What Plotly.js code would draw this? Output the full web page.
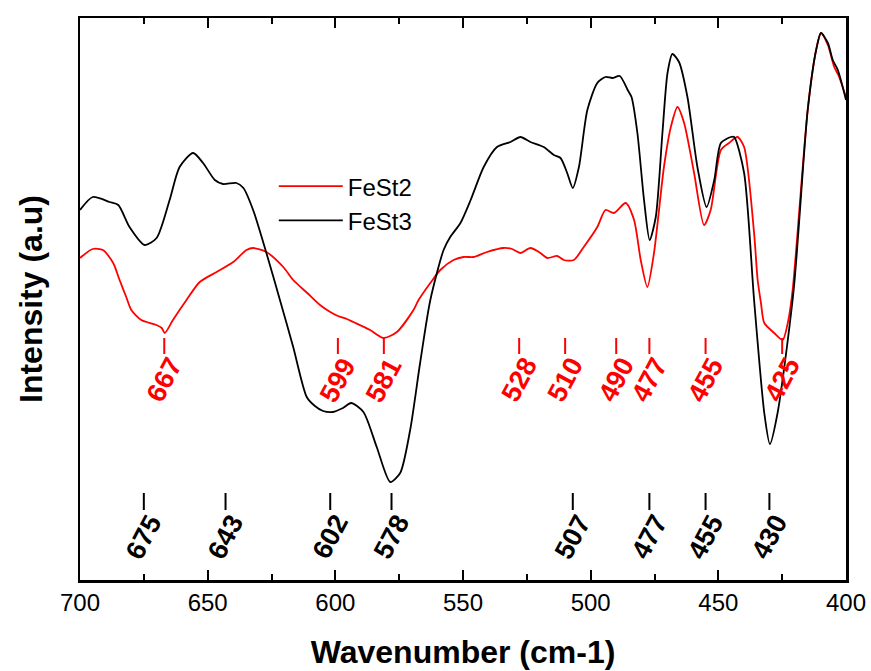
<!DOCTYPE html>
<html>
<head>
<meta charset="utf-8">
<script src="https://cdn.plot.ly/plotly-3.0.1.min.js"></script>
<style>html,body{margin:0;padding:0;background:#fff;}#chart{width:871px;height:671px;}</style>
</head>
<body>
<div id="chart"></div>
<script>
// FeSt3 (black) spectrum, wavenumber (cm-1) and intensity (a.u.)
const fest3X = [700,695,688.4,685,680.6,674.7,670,664.9,661,655.7,651.8,647.2,644,638.7,636,632.2,627,621.7,616.5,611.2,608,604.8,601,597,593.8,589,583.8,578.5,574.6,570.7,566.8,562.8,557.6,555,551,547,541.9,536.7,531.4,527.5,523.6,518.4,514.4,511.8,509.2,507,504.6,501.3,497.4,494.2,491.5,488.6,485.5,484,481.7,479.1,476.9,474.5,471.9,469.9,468,465.4,462.1,458.2,454.6,451.6,449,445.1,443.8,439.9,436,432,429.8,426.8,420.5,415,411.7,409.8,407.1,405.2,403.2,400];
const fest3Y = [370,383,378,375,353,335,342,380,413,427,417,400,396,397,392,370,327,280,233,183,174,169,168,172,177,168,133,98,107,150,217,280,330,343,357,380,413,433,438,443,438,433,425,422,407,392,413,470,497,503,502,504,490,483,447,380,340,363,447,507,526,518,483,413,373,400,437,443,443,407,280,167,136,167,290,470,530,547,537,520,510,480];
// FeSt2 (red) spectrum
const fest2X = [700,695,691,687,684.5,681.9,679.9,676,670.1,668,666.8,663.6,658.3,653.1,646.5,640,634.8,632.2,627,620.4,616.5,611,606,602,599,595.5,593,586.4,581.2,575.9,569.4,567.4,562.8,558.9,553.7,549.8,545.8,540.6,534.1,530.8,527.5,523.6,519.7,517,513.1,510.5,506.6,502.7,497.4,494.2,490.9,486.3,483,480.4,477.8,475.2,471.3,468.6,466,463.4,459.5,455.6,453,449,445.8,442.5,439.9,436,434.6,433.3,432,428.1,424.8,422.8,420.9,415,411.7,409.8,407.1,404.6,403,400];
const fest2Y = [322,331,330,317,300,283,270,260,255,252,247,260,280,298,308,318,330,332,328,313,300,287,275,268,264,261,258,250,242,248,270,280,297,310,320,323,323,328,332,331,327,332,327,322,324,320,320,333,353,370,367,377,360,320,293,327,413,453,473,457,407,355,370,430,437,443,433,347,300,277,257,247,240,257,290,470,530,547,535,513,505,483];

// peak labels
const peaksRed = [667,599,581,528,510,490,477,455,425];
const peaksBlack = [675,643,602,578,507,477,455,430];
const redTick = [226,242];   // intensity span of the red marker dashes
const redText = 200;
const blackTick = [70,87];
const blackText = 43;

const xTickVals = [700,650,600,550,500,450,400];
const FONT = 'Liberation Sans, Arial, sans-serif';

const traces = [
  {x: fest2X, y: fest2Y, name: 'FeSt2', mode: 'lines', line: {color: '#ff0000', width: 1.8, shape: 'spline', smoothing: 0.7}},
  {x: fest3X, y: fest3Y, name: 'FeSt3', mode: 'lines', line: {color: '#000000', width: 1.8, shape: 'spline', smoothing: 0.7}}
];

const shapes = [];
const annotations = [];
peaksRed.forEach(p => {
  shapes.push({type: 'line', xref: 'x', yref: 'y', x0: p, x1: p, y0: redTick[0], y1: redTick[1], line: {color: '#ff0000', width: 2}});
  annotations.push({x: p, y: redText, xref: 'x', yref: 'y', text: String(p), showarrow: false, textangle: -62,
    xanchor: 'center', yanchor: 'middle', font: {family: FONT, size: 27, color: '#ff0000', weight: 'bold'}});
});
peaksBlack.forEach(p => {
  shapes.push({type: 'line', xref: 'x', yref: 'y', x0: p, x1: p, y0: blackTick[0], y1: blackTick[1], line: {color: '#000000', width: 2}});
  annotations.push({x: p, y: blackText, xref: 'x', yref: 'y', text: String(p), showarrow: false, textangle: -62,
    xanchor: 'center', yanchor: 'middle', font: {family: FONT, size: 27, color: '#000000', weight: 'bold'}});
});

const layout = {
  width: 871, height: 671,
  margin: {l: 80, r: 25, t: 18, b: 91},
  paper_bgcolor: '#ffffff', plot_bgcolor: '#ffffff',
  font: {family: FONT, color: '#000'},
  showlegend: true,
  legend: {x: 0.253, y: 0.74, xanchor: 'left', yanchor: 'top', bgcolor: 'rgba(0,0,0,0)',
    font: {size: 24, family: FONT}, itemwidth: 64, tracegroupgap: 0},
  xaxis: {
    range: [700, 400], tickvals: xTickVals, ticktext: xTickVals.map(String),
    ticks: 'inside', ticklen: 10, tickwidth: 2, tickcolor: '#000',
    minor: {dtick: 25, ticks: 'inside', ticklen: 6, tickwidth: 2, tickcolor: '#000', showgrid: false},
    showline: true, linewidth: 2.5, linecolor: '#000', mirror: 'ticks',
    showgrid: false, zeroline: false,
    tickfont: {size: 24, family: FONT},
    title: {text: 'Wavenumber (cm-1)', font: {size: 32, weight: 'bold', family: FONT}, standoff: 26}
  },
  yaxis: {
    range: [0, 562], showticklabels: false, ticks: '',
    showline: true, linewidth: 2.5, linecolor: '#000', mirror: true,
    showgrid: false, zeroline: false,
    title: {text: 'Intensity (a.u)', font: {size: 32, weight: 'bold', family: FONT}, standoff: 26}
  },
  shapes: shapes,
  annotations: annotations
};

Plotly.newPlot('chart', traces, layout, {displayModeBar: false, staticPlot: true});
</script>
</body>
</html>
